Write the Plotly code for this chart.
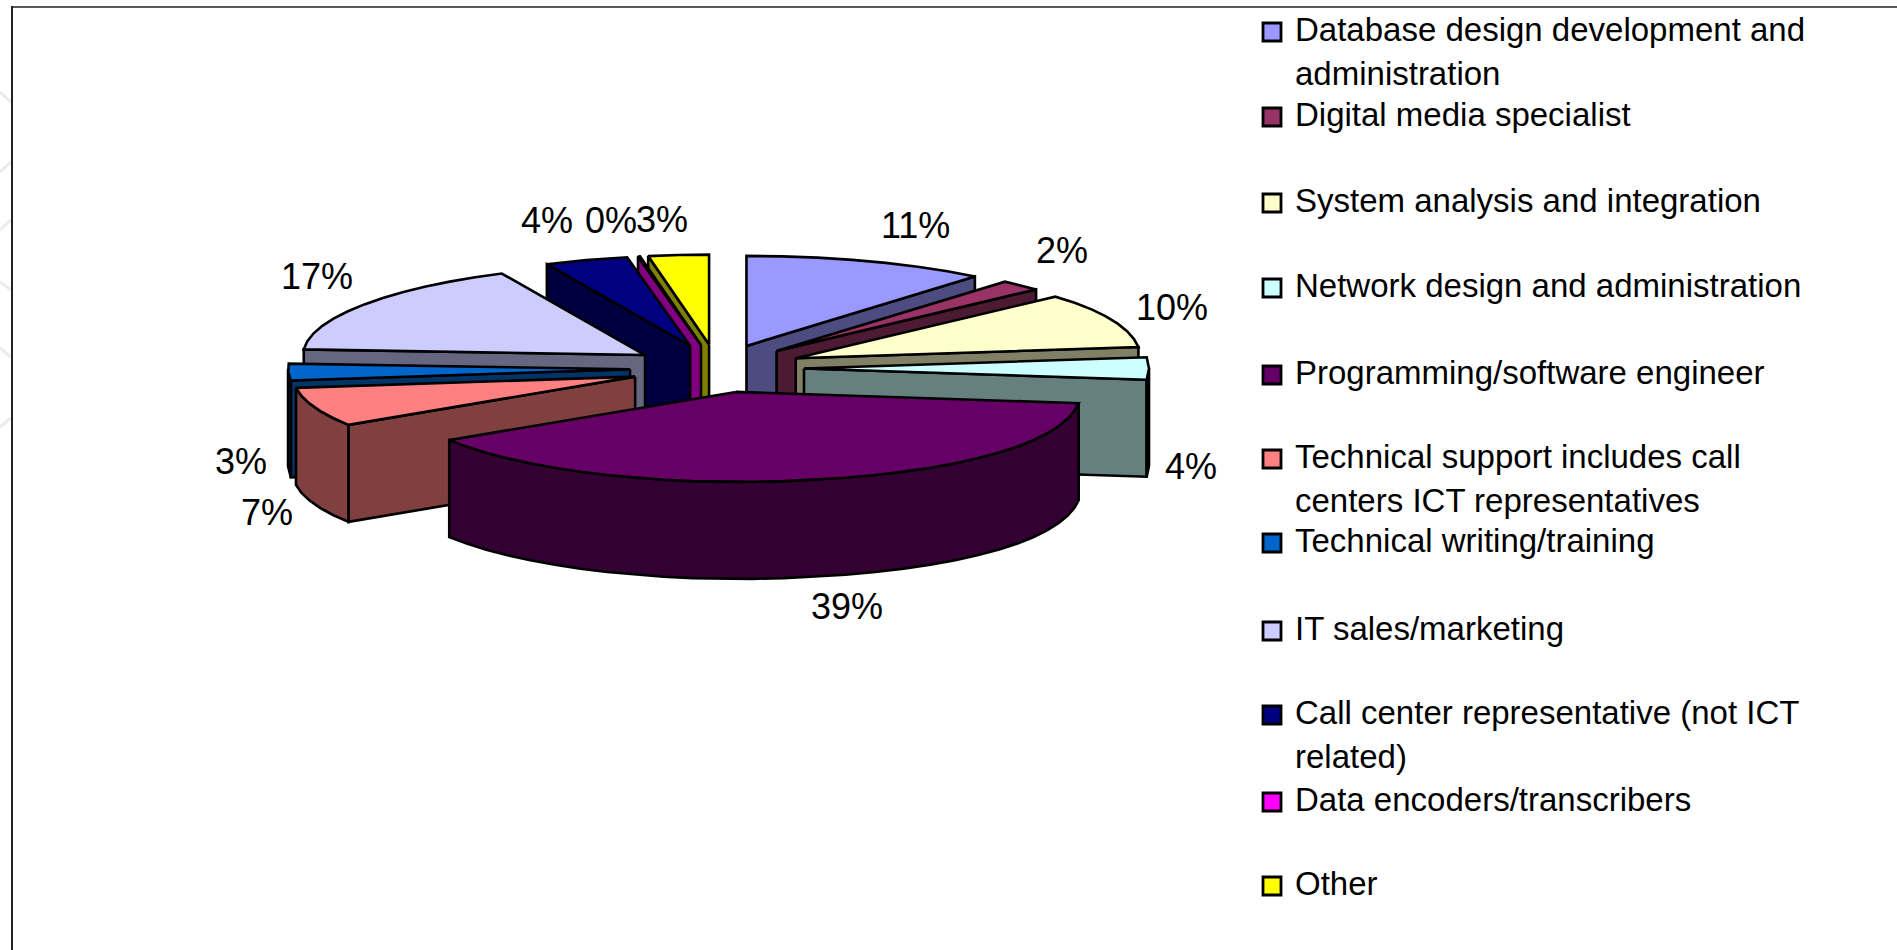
import math
import plotly.graph_objects as go

# ---------- data ----------
categories = [
    "Database design development and administration",
    "Digital media specialist",
    "System analysis and integration",
    "Network design and administration",
    "Programming/software engineer",
    "Technical support includes call centers ICT representatives",
    "Technical writing/training",
    "IT sales/marketing",
    "Call center representative (not ICT related)",
    "Data encoders/transcribers",
    "Other",
]
values = [11, 2, 10, 4, 39, 7, 3, 17, 4, 0.1, 2.9]
colors = ["#9999FF", "#993366", "#FFFFCC", "#CCFFFF", "#660066", "#FF8080",
          "#0066CC", "#CCCCFF", "#000080", "#FF00FF", "#FFFF00"]
legend_lines = [
    ["Database design development and", "administration"],
    ["Digital media specialist"],
    ["System analysis and integration"],
    ["Network design and administration"],
    ["Programming/software engineer"],
    ["Technical support includes call", "centers ICT representatives"],
    ["Technical writing/training"],
    ["IT sales/marketing"],
    ["Call center representative (not ICT", "related)"],
    ["Data encoders/transcribers"],
    ["Other"],
]

# ---------- layout constants (pixels of the 1897x950 canvas) ----------
W, H = 1897, 950
CX, CY = 717, 368.5        # pie centre
RY = 90                    # vertical radius of the tilted pie
DEPTH = 97                 # extrusion height
EX, EY = 87, 24            # explosion distance
draw_order = [0, 1, 2, 3, 10, 9, 8, 7, 6, 5, 4]
label_xy = [(915, 225), (1062, 250), (1172, 307), (1191, 466), (847, 606), (267, 512),
            (241, 461), (317, 276), (547, 220), (611, 220), (662, 219)]
legend_y = [32, 117, 203, 288, 375, 459, 543, 631, 715, 802, 886]
LEGEND_LINE = 44
FONT = "Liberation Sans, Arial, sans-serif"
OUTLINE = "#000000"


def shade(hex_color):
    r, g, b = (int(hex_color[i:i + 2], 16) for i in (1, 3, 5))
    return f"rgb({round(r / 2)},{round(g / 2)},{round(b / 2)})"


def rim(theta, ax, ay, down=0):
    t = math.radians(theta)
    s, c = math.sin(t), math.cos(t)
    # the source chart has a perspective that stretches its right half
    dx = 363 * s - 18 * s ** 4 if s >= 0 else 336 * s - 6 * s ** 4
    return ax + dx, ay - RY * c + down


def arc(t0, t1, ax, ay, down=0):
    n = max(1, int(abs(t1 - t0) / 5))
    return [rim(t0 + (t1 - t0) * i / n, ax, ay, down) for i in range(n + 1)]


fig = go.Figure()


def poly(points, fill, name):
    xs = [p[0] for p in points] + [points[0][0]]
    ys = [p[1] for p in points] + [points[0][1]]
    fig.add_trace(go.Scatter(
        x=xs, y=ys, mode="lines", fill="toself", fillcolor=fill, name=name,
        line=dict(color=OUTLINE, width=2.6), showlegend=False, hoverinfo="name",
    ))


total = sum(values)
starts, ends = [], []
acc = 0
for v in values:
    starts.append(acc / total * 360)
    acc += v
    ends.append(acc / total * 360)

for i in draw_order:
    t0, t1 = starts[i], ends[i]
    mid = math.radians((t0 + t1) / 2)
    ax, ay = CX + EX * math.sin(mid), CY - EY * math.cos(mid)
    wall = shade(colors[i])
    name = categories[i]
    # radial walls that face the viewer
    if 0 < t1 < 180:
        p, q = rim(t1, ax, ay), rim(t1, ax, ay, DEPTH)
        poly([(ax, ay), p, q, (ax, ay + DEPTH)], wall, name)
    if 180 < t0 < 360:
        p, q = rim(t0, ax, ay), rim(t0, ax, ay, DEPTH)
        poly([(ax, ay), p, q, (ax, ay + DEPTH)], wall, name)
    # curved outer wall, front half only
    w0, w1 = max(t0, 90), min(t1, 270)
    if w0 < w1:
        poly(arc(w0, w1, ax, ay) + arc(w1, w0, ax, ay, DEPTH), wall, name)
    # top face
    poly([(ax, ay)] + arc(t0, t1, ax, ay), colors[i], name)

# legend swatches
fig.add_trace(go.Scatter(
    x=[1272] * len(categories), y=legend_y, mode="markers", showlegend=False,
    text=categories, hoverinfo="text",
    marker=dict(symbol="square", size=18, color=colors, line=dict(color="#000", width=2.8)),
))

annotations = []
for i, lines in enumerate(legend_lines):
    for j, line in enumerate(lines):
        annotations.append(dict(
            x=1293, y=legend_y[i] - 3 + j * LEGEND_LINE, text=line, showarrow=False,
            xanchor="left", yanchor="middle", xref="x", yref="y",
            font=dict(family=FONT, size=33, color="#000"),
        ))
for i, (lx, ly) in enumerate(label_xy):
    annotations.append(dict(
        x=lx, y=ly, text=f"{round(values[i] / total * 100)}%", showarrow=False,
        xanchor="center", yanchor="middle", xref="x", yref="y",
        font=dict(family=FONT, size=36, color="#000"),
    ))

shapes = [
    dict(type="line", x0=12, x1=W, y0=7, y1=7, line=dict(color="#222", width=1.5), layer="above"),
    dict(type="line", x0=12, x1=12, y0=6, y1=H, line=dict(color="#222", width=2), layer="above"),
]
for y0, y1 in [(92, 102), (172, 162), (230, 220), (282, 290), (348, 357), (427, 418)]:
    shapes.append(dict(type="line", x0=0, x1=11, y0=y0, y1=y1,
                       line=dict(color="#ECECEC", width=3), layer="below"))

fig.update_layout(
    width=W, height=H, margin=dict(l=0, r=0, t=0, b=0),
    paper_bgcolor="#FFFFFF", plot_bgcolor="#FFFFFF",
    xaxis=dict(range=[0, W], visible=False, fixedrange=True),
    yaxis=dict(range=[H, 0], visible=False, fixedrange=True),
    annotations=annotations, shapes=shapes,
    font=dict(family=FONT),
)
fig.write_html("out.html", config={"displayModeBar": False},
               post_script="document.body.style.margin='0';document.body.style.overflow='hidden';")
